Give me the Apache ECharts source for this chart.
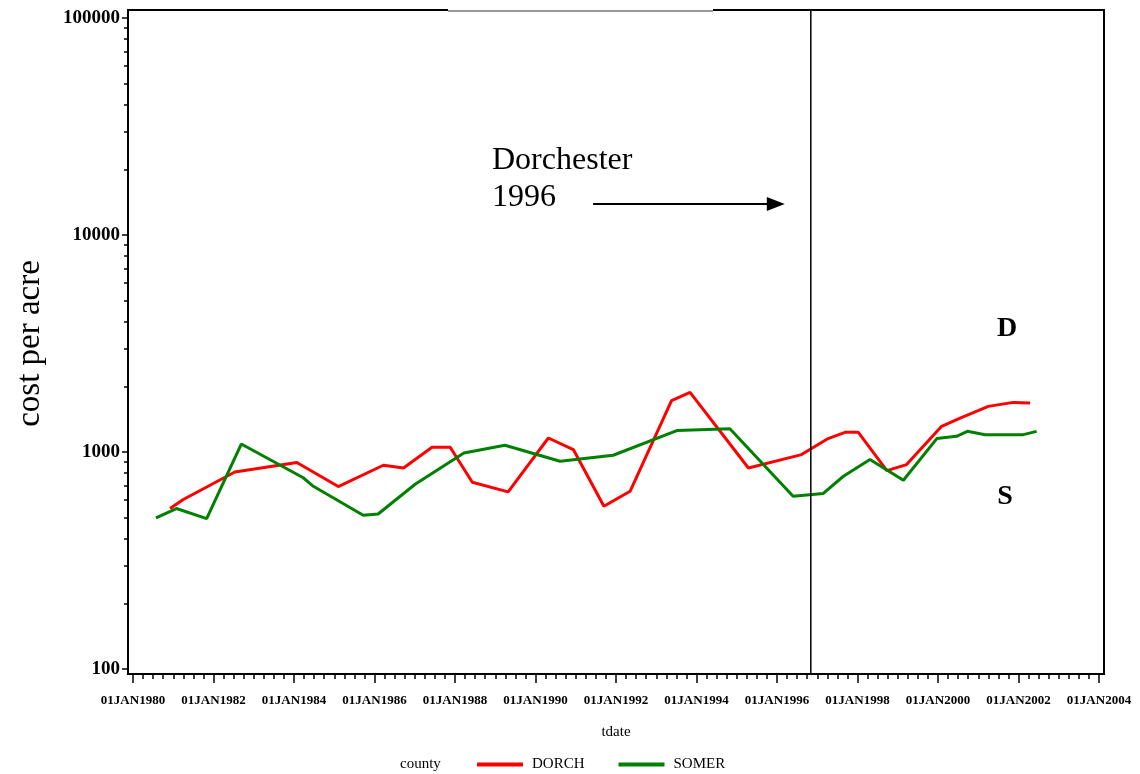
<!DOCTYPE html>
<html>
<head>
<meta charset="utf-8">
<script src="https://cdn.jsdelivr.net/npm/echarts@6/dist/echarts.min.js"></script>
<style>
html,body{margin:0;padding:0;background:#fff;}
#chart{width:1140px;height:774px;}
</style>
</head>
<body>
<div id="chart"></div>
<script>
// ---- data (decimal years, cost per acre) ----
const dorchYears = [1980.92,1981.25,1982.53,1984.07,1985.10,1986.22,1986.72,1987.43,1987.88,1988.43,1989.32,1990.32,1990.94,1991.70,1992.35,1993.38,1993.84,1995.29,1996.61,1997.27,1997.69,1998.02,1998.73,1999.22,2000.09,2000.55,2001.25,2001.87,2002.29];
const dorchCost  = [549,604,809,895,693,869,844,1051,1051,725,655,1160,1026,562,659,1724,1882,844,973,1153,1232,1232,821,875,1313,1434,1623,1693,1681];
const somerYears = [1980.57,1981.08,1981.83,1982.69,1984.23,1984.48,1985.72,1986.09,1987.01,1988.22,1989.24,1990.61,1991.93,1993.51,1994.83,1996.40,1997.15,1997.65,1998.31,1999.14,1999.97,2000.46,2000.73,2001.17,2002.12,2002.45];
const somerCost  = [497,549,493,1088,761,695,511,518,710,989,1074,906,966,1255,1281,625,644,773,923,741,1153,1181,1245,1202,1202,1245];
const seriesNames = ['DORCH','SOMER'];
const xTickYears = [1980,1982,1984,1986,1988,1990,1992,1994,1996,1998,2000,2002,2004];
const yTickValues = [100,1000,10000,100000];
const yMinorValues = [200,300,400,500,600,700,800,900,2000,3000,4000,5000,6000,7000,8000,9000,20000,30000,40000,50000,60000,70000,80000,90000];
const eventYear = 1996.84;   // vertical reference line
const arrowFrom = [1991.43, 13900];
const arrowTo   = [1995.97, 13900];

const FONT = 'Liberation Serif';
const zip = (xs, ys) => xs.map((x, i) => [x, ys[i]]);

const chart = echarts.init(document.getElementById('chart'), null, {renderer: 'canvas'});
const option = {
  animation: false,
  backgroundColor: '#fff',
  grid: {left: 133, right: 41, top: 18, bottom: 105, containLabel: false},
  xAxis: [{
    type: 'value', min: xTickYears[0], max: xTickYears[xTickYears.length - 1], interval: 2,
    position: 'bottom', offset: 6,
    axisLine: {show: false},
    axisTick: {show: true, length: 8, lineStyle: {color: '#000', width: 1.5}},
    minorTick: {show: true, splitNumber: 8, length: 4, lineStyle: {color: '#000', width: 1.5}},
    splitLine: {show: false}, minorSplitLine: {show: false},
    axisLabel: {margin: 19, color: '#000', fontFamily: FONT, fontWeight: 'bold', fontSize: 13,
      formatter: v => '01JAN' + v},
    name: 'tdate', nameLocation: 'middle', nameGap: 50,
    nameTextStyle: {color: '#000', fontFamily: FONT, fontSize: 15}
  }],
  yAxis: [{
    type: 'log', logBase: 10, min: yTickValues[0], max: yTickValues[yTickValues.length - 1],
    position: 'left', offset: 5,
    axisLine: {show: false},
    axisTick: {show: true, length: 6, lineStyle: {color: '#000', width: 1.5}},
    splitLine: {show: false},
    axisLabel: {margin: 8, color: '#000', fontFamily: FONT, fontWeight: 'bold', fontSize: 19,
      formatter: v => String(v)},
    name: 'cost per acre', nameLocation: 'middle', nameGap: 81,
    nameTextStyle: {color: '#000', fontFamily: FONT, fontSize: 33}
  }, {
    type: 'value', min: Math.log10(yTickValues[0]), max: Math.log10(yTickValues[yTickValues.length - 1]),
    position: 'left', offset: 5,
    axisLine: {show: false},
    axisTick: {show: true, length: 4, lineStyle: {color: '#000', width: 1.5},
      customValues: yMinorValues.map(v => Math.log10(v))},
    axisLabel: {show: false}, splitLine: {show: false}
  }],
  legend: {
    left: 477, top: 757, padding: 0, icon: 'rect', itemWidth: 46, itemHeight: 4, itemGap: 34,
    textStyle: {color: '#000', fontFamily: FONT, fontSize: 15, padding: [0, 0, 0, 4]},
    data: seriesNames
  },
  series: [{
    name: seriesNames[0], type: 'line', data: zip(dorchYears, dorchCost),
    showSymbol: false, symbol: 'none', color: '#ff0000',
    lineStyle: {color: '#ff0000', width: 3},
    markLine: {
      silent: true, symbol: ['none', 'triangle'], symbolSize: [14, 18],
      label: {show: false},
      lineStyle: {color: '#000', width: 2, type: 'solid'},
      data: [[{coord: arrowFrom}, {coord: arrowTo}]]
    }
  }, {
    name: seriesNames[1], type: 'line', data: zip(somerYears, somerCost),
    showSymbol: false, symbol: 'none', color: '#008000',
    lineStyle: {color: '#008000', width: 3}
  }],
  graphic: []
};
chart.setOption(option);

const vx = chart.convertToPixel({xAxisIndex: 0}, eventYear);
chart.setOption({
  graphic: [
    {type: 'rect', shape: {x: 128, y: 10, width: 976, height: 664},
      style: {fill: null, stroke: '#000', lineWidth: 2}, z: 10},
    {type: 'line', shape: {x1: 448, y1: 10, x2: 713, y2: 10},
      style: {stroke: '#fff', lineWidth: 2.5}, z: 11},
    {type: 'line', shape: {x1: 448, y1: 11, x2: 713, y2: 11},
      style: {stroke: '#333', lineWidth: 1}, z: 12},
    {type: 'line', shape: {x1: vx, y1: 10, x2: vx, y2: 674},
      style: {stroke: '#000', lineWidth: 1.5}, z: 10},
    {type: 'text', left: 492, top: 142,
      style: {text: 'Dorchester\n1996', fontFamily: FONT, fontSize: 32, lineHeight: 37, fill: '#000'}},
    {type: 'text', x: 1007, y: 329,
      style: {text: 'D', fontFamily: FONT, fontSize: 28, fontWeight: 'bold', fill: '#000', align: 'center', verticalAlign: 'middle'}},
    {type: 'text', x: 1005, y: 497,
      style: {text: 'S', fontFamily: FONT, fontSize: 28, fontWeight: 'bold', fill: '#000', align: 'center', verticalAlign: 'middle'}},
    {type: 'text', x: 400, y: 764,
      style: {text: 'county', fontFamily: FONT, fontSize: 15, fill: '#000', align: 'left', verticalAlign: 'middle'}}
  ]
});
</script>
</body>
</html>
